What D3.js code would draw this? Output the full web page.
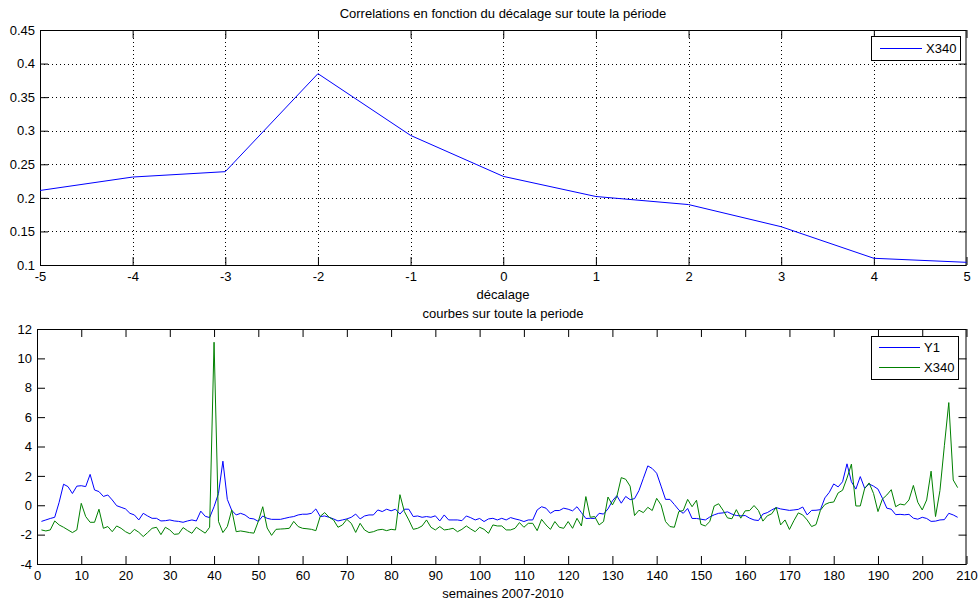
<!DOCTYPE html>
<html><head><meta charset="utf-8">
<script src="https://cdn.jsdelivr.net/npm/d3@7/dist/d3.min.js"></script>
<style>
body{margin:0;background:#fff;}
text{font-family:"Liberation Sans",Arial,sans-serif;font-size:13px;fill:#000;}
</style></head><body>
<svg id="c" width="978" height="603"></svg>
<script>
// ---- Data ----
const lags = [-5,-4,-3,-2,-1,0,1,2,3,4,5];
const corrX340 = [0.211,0.231,0.239,0.385,0.293,0.232,0.202,0.190,0.157,0.110,0.104];
const lagTicks = [-5,-4,-3,-2,-1,0,1,2,3,4,5];
const corrTicks = [0.1,0.15,0.2,0.25,0.3,0.35,0.4,0.45];

const y1Values = [
-1.1,-1.0,-0.9,-0.82,0.2,1.43,1.27,0.8,1.3,1.33,
1.27,2.1,1.04,0.93,0.6,0.7,0.36,-0.03,-0.14,-0.25,
-0.55,-0.66,-1.0,-0.55,-0.73,-0.89,-0.89,-1.07,-1.05,-1.0,
-1.07,-1.1,-1.16,-1.07,-1.0,-1.07,-0.4,-0.75,-0.84,-0.1,
0.8,3.0,0.4,-0.35,-0.66,-0.55,-0.66,-0.89,-0.93,-1.1,
-0.73,-0.89,-0.96,-0.96,-0.96,-0.89,-0.82,-0.77,-0.66,-0.61,
-0.61,-0.55,-0.25,-0.77,-0.73,-0.82,-0.93,-1.07,-1.0,-0.93,
-0.82,-0.6,-0.93,-0.73,-0.66,-0.66,-0.32,-0.43,-0.27,-0.38,
-0.27,-0.6,-0.27,-0.27,-0.77,-0.73,-0.82,-0.77,-0.82,-0.72,
-1.07,-0.66,-1.0,-1.0,-1.0,-1.05,-0.73,-0.85,-1.0,-0.9,
-1.11,-0.93,-0.89,-1.0,-0.89,-1.0,-0.84,-0.93,-1.0,-1.11,
-1.0,-1.0,-0.32,-0.1,-0.2,-0.55,-0.36,-0.36,-0.2,-0.27,
-0.38,-0.1,-0.5,-0.9,-0.89,-0.9,-0.55,-0.6,-0.25,0.3,
0.65,0.14,0.6,0.38,0.45,1.0,1.84,2.68,2.5,2.18,
1.3,0.4,0.4,0.05,-0.32,-0.55,-0.22,-0.9,-0.9,-0.95,
-1.0,-0.8,-0.65,-0.55,-0.52,-0.45,-0.6,-0.7,-0.72,-0.7,
-0.88,-1.0,-1.04,-0.6,-0.5,-0.32,-0.16,-0.25,-0.3,-0.35,
-0.32,-0.28,-0.12,-0.66,-0.35,-0.34,-0.3,0.5,0.88,1.45,
1.25,1.6,2.82,1.6,1.1,1.95,1.15,1.45,1.3,1.1,
0.48,-0.2,-0.27,-0.64,-0.62,-0.65,-0.62,-0.88,-0.95,-0.82,
-0.9,-1.1,-1.08,-1.0,-0.98,-0.55,-0.66,-0.82];

const x340Values = [
-1.68,-1.75,-1.68,-1.07,-1.34,-1.5,-1.68,-1.86,-1.68,0.13,
-0.77,-1.16,-1.16,-0.27,-1.57,-1.45,-1.8,-1.41,-1.57,-1.8,
-1.95,-1.64,-1.84,-2.13,-1.86,-1.57,-1.5,-2.0,-1.5,-1.68,
-1.98,-1.95,-1.52,-1.73,-1.91,-1.5,-1.7,-1.9,-1.5,11.1,
-1.1,-1.86,-1.45,-0.32,-1.8,-1.75,-1.8,-1.86,-1.9,-1.1,
-0.1,-1.55,-2.05,-1.64,-1.62,-1.6,-1.57,-1.1,-1.45,-1.57,
-1.6,-1.64,-1.73,-0.75,-0.5,-0.82,-1.0,-1.5,-1.34,-0.96,
-1.23,-1.85,-1.23,-1.68,-1.86,-1.8,-1.68,-1.64,-1.73,-1.64,
-1.68,0.72,-0.43,-1.0,-1.64,-1.57,-1.41,-1.0,-1.5,-1.68,
-1.45,-1.68,-1.64,-1.57,-1.8,-1.64,-1.41,-1.62,-1.8,-1.5,
-1.64,-1.91,-1.34,-1.41,-1.41,-1.68,-1.68,-1.57,-1.18,-1.5,
-1.23,-1.23,-1.73,-0.96,-1.34,-1.64,-1.11,-1.5,-1.57,-1.11,
-1.57,-0.89,-1.41,0.59,-0.82,-0.77,-1.34,-1.11,0.56,0.02,
0.59,1.88,1.77,1.3,-0.7,-0.34,-0.5,-0.14,-0.36,0.47,
0.02,-1.11,-1.45,-1.5,-0.43,-0.36,0.4,-0.1,0.34,-1.3,
-1.41,-1.11,-0.05,0.1,-0.34,-0.86,-0.92,-0.3,-0.88,-0.38,
-0.36,-0.02,-0.36,-1.08,-0.72,-0.58,-0.14,-1.34,-1.0,-1.65,
-1.05,-0.52,-0.66,-1.0,-1.45,-1.32,-0.34,0.05,0.18,0.22,
0.84,1.02,1.85,2.8,-0.05,-0.05,1.15,1.52,0.8,-0.43,
0.42,0.7,1.06,-0.1,0.08,0.02,0.36,1.35,0.2,-0.32,
0.36,2.32,-0.77,1.0,4.05,6.99,1.72,1.2];

const weekTicks = d3.range(0, 211, 10);
const valueTicks = d3.range(-4, 13, 2);

const titleTop = "Correlations en fonction du décalage sur toute la période";
const xLabelTop = "décalage";
const titleBottom = "courbes sur toute la periode";
const xLabelBottom = "semaines 2007-2010";

// ---- Drawing ----
const svg = d3.select("#c");
svg.append("rect").attr("width",978).attr("height",603).attr("fill","#fff");
const TICK = 8;
const plain = d => String(+(+d).toFixed(2)); // hyphen-minus, as in the original

function frame(g, x, y, xt, yt, grid) {
  const [x0,x1] = x.range(), [y0,y1] = y.range(); // y0 bottom, y1 top
  if (grid) {
    g.append("g").selectAll("line").data(xt.filter(t=>t!==xt[0]&&t!==xt[xt.length-1])).join("line")
      .attr("x1",d=>Math.round(x(d))+0.5).attr("x2",d=>Math.round(x(d))+0.5)
      .attr("y1",y1).attr("y2",y0).attr("stroke","#000").attr("stroke-dasharray","1,3");
    g.append("g").selectAll("line").data(yt.filter(t=>t!==yt[0]&&t!==yt[yt.length-1])).join("line")
      .attr("y1",d=>Math.round(y(d))+0.5).attr("y2",d=>Math.round(y(d))+0.5)
      .attr("x1",x0).attr("x2",x1).attr("stroke","#000").attr("stroke-dasharray","1,3");
  }
  const ax = (a)=>a.tickSizeInner(-TICK).tickSizeOuter(0);
  const gb = g.append("g").attr("transform",`translate(0,${y0})`)
    .call(ax(d3.axisBottom(x).tickValues(xt).tickFormat(plain)).tickPadding(7));
  const gt = g.append("g").attr("transform",`translate(0,${y1})`)
    .call(ax(d3.axisTop(x).tickValues(xt).tickFormat("")));
  const gl = g.append("g").attr("transform",`translate(${x0},0)`)
    .call(ax(d3.axisLeft(y).tickValues(yt).tickFormat(plain)).tickPadding(5));
  const gr = g.append("g").attr("transform",`translate(${x1},0)`)
    .call(ax(d3.axisRight(y).tickValues(yt).tickFormat("")));
  [gb,gt,gl,gr].forEach(a=>{
    a.select(".domain").remove();
    a.selectAll(".tick line").attr("stroke","#000");
    a.selectAll("text").attr("font-family",null).attr("font-size",null).attr("fill","#000");
  });
  g.append("rect").attr("x",x0+0.5).attr("y",y1+0.5).attr("width",x1-x0-1).attr("height",y0-y1)
    .attr("fill","none").attr("stroke","#000");
}

// Top chart
const xT = d3.scaleLinear().domain([-5,5]).range([40,966.5]);
const yT = d3.scaleLinear().domain([0.1,0.45]).range([265,30]);
const gT = svg.append("g");
frame(gT, xT, yT, lagTicks, corrTicks, true);
gT.append("path").datum(lags.map((l,i)=>[l,corrX340[i]]))
  .attr("fill","none").attr("stroke","#0000ff").attr("stroke-width",1)
  .attr("d", d3.line().x(d=>xT(d[0])).y(d=>yT(d[1])));
gT.append("text").attr("x",503).attr("y",18).attr("text-anchor","middle").text(titleTop);
gT.append("text").attr("x",503).attr("y",299).attr("text-anchor","middle").text(xLabelTop);

// Top legend
const lgT = gT.append("g");
lgT.append("rect").attr("x",871.5).attr("y",36.5).attr("width",89).attr("height",24).attr("fill","#fff").attr("stroke","#000");
lgT.append("line").attr("x1",880).attr("x2",922).attr("y1",48.5).attr("y2",48.5).attr("stroke","#0000ff");
lgT.append("text").attr("x",926).attr("y",53).text("X340");

// Bottom chart
const xB = d3.scaleLinear().domain([0,210]).range([37,966.5]);
const yB = d3.scaleLinear().domain([-4,12]).range([564,329]);
const gB = svg.append("g");
frame(gB, xB, yB, weekTicks, valueTicks, false);
const lineB = d3.line().x(d=>xB(d[0])).y(d=>yB(d[1]));
gB.append("path").datum(y1Values.map((v,i)=>[i+1,v]))
  .attr("fill","none").attr("stroke","#0000ff").attr("stroke-width",1).attr("d",lineB);
gB.append("path").datum(x340Values.map((v,i)=>[i+1,v]))
  .attr("fill","none").attr("stroke","#008000").attr("stroke-width",1).attr("d",lineB);
gB.append("text").attr("x",503).attr("y",318).attr("text-anchor","middle").text(titleBottom);
gB.append("text").attr("x",503).attr("y",598).attr("text-anchor","middle").text(xLabelBottom);

// Bottom legend
const lgB = gB.append("g");
lgB.append("rect").attr("x",871.5).attr("y",336.5).attr("width",87).attr("height",43).attr("fill","#fff").attr("stroke","#000");
lgB.append("line").attr("x1",879).attr("x2",920).attr("y1",347.5).attr("y2",347.5).attr("stroke","#0000ff");
lgB.append("text").attr("x",924).attr("y",352).text("Y1");
lgB.append("line").attr("x1",879).attr("x2",920).attr("y1",367.5).attr("y2",367.5).attr("stroke","#008000");
lgB.append("text").attr("x",924).attr("y",372).text("X340");
</script>
</body></html>
